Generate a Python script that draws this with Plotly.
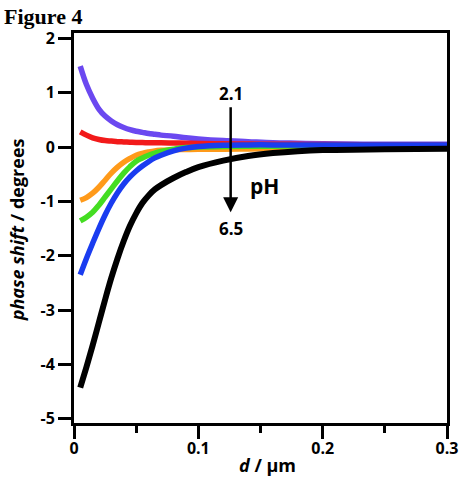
import plotly.graph_objects as go

x_vals = [0.005, 0.01, 0.015, 0.02, 0.025, 0.03, 0.035, 0.04, 0.045, 0.05, 0.055, 0.06, 0.065, 0.07,
          0.08, 0.09, 0.1, 0.12, 0.14, 0.16, 0.18, 0.2, 0.25, 0.3]

purple = [1.49, 1.15, 0.90, 0.70, 0.57, 0.48, 0.41, 0.36, 0.32, 0.29, 0.27, 0.25, 0.235, 0.22,
          0.20, 0.17, 0.15, 0.12, 0.10, 0.08, 0.07, 0.06, 0.05, 0.05]
red = [0.28, 0.22, 0.17, 0.14, 0.12, 0.11, 0.10, 0.095, 0.09, 0.085, 0.082, 0.08, 0.079, 0.078,
       0.075, 0.07, 0.065, 0.06, 0.055, 0.05, 0.05, 0.045, 0.04, 0.04]
orange = [-0.98, -0.93, -0.85, -0.74, -0.61, -0.48, -0.37, -0.28, -0.21, -0.15, -0.115, -0.09, -0.07, -0.06,
          -0.05, -0.045, -0.04, -0.04, -0.035, -0.03, -0.03, -0.025, -0.02, -0.02]
green = [-1.36, -1.29, -1.20, -1.07, -0.92, -0.77, -0.62, -0.48, -0.36, -0.26, -0.2, -0.15, -0.11, -0.08,
         -0.04, -0.01, 0.0, 0.01, 0.015, 0.015, 0.02, 0.02, 0.02, 0.02]
blue = [-2.35, -2.05, -1.77, -1.50, -1.25, -1.03, -0.84, -0.68, -0.55, -0.44, -0.35, -0.27, -0.2, -0.15,
        -0.07, -0.02, 0.01, 0.035, 0.04, 0.04, 0.04, 0.04, 0.04, 0.04]
black = [-4.43, -4.05, -3.65, -3.23, -2.81, -2.41, -2.05, -1.73, -1.45, -1.22, -1.03, -0.89, -0.78, -0.70,
         -0.57, -0.46, -0.37, -0.25, -0.165, -0.11, -0.075, -0.055, -0.04, -0.03]

series = [
    ("pH 2.1", purple, "#6B48F0"),
    ("red", red, "#F21A1A"),
    ("orange", orange, "#FF9A1A"),
    ("green", green, "#44DD22"),
    ("blue", blue, "#1A3CF0"),
    ("pH 6.5", black, "#000000"),
]

fig = go.Figure()
for name, ys, col in series:
    fig.add_trace(go.Scatter(x=x_vals, y=ys, mode="lines", name=name,
                             line=dict(color=col, width=6 if col == "#000000" else 5.5,
                                       shape="spline", smoothing=1.0)))

tickfont = dict(family="Open Sans", size=16, color="black", weight="bold")
y_ticks = [-5, -4, -3, -2, -1, 0, 1, 2]
y_ticktext = ["-5", "-4", "-3", "-2", "-1", "0", "1", "2"]
x_ticks = [0, 0.1, 0.2, 0.3]
x_ticktext = ["0", "0.1", "0.2", "0.3"]

fig.update_layout(
    width=470, height=478,
    margin=dict(l=74, r=14, t=33, b=55),
    plot_bgcolor="white", paper_bgcolor="white",
    showlegend=False,
    xaxis=dict(range=[0, 0.3], tickvals=x_ticks, ticktext=x_ticktext,
               ticks="outside", ticklen=13, tickwidth=3, tickcolor="black",
               showline=True, linewidth=3, linecolor="black", mirror=True,
               showgrid=False, zeroline=False, tickfont=tickfont, ticklabelstandoff=-4,
               minor=dict(tickvals=[0.05, 0.15, 0.25], ticks="outside", ticklen=7, tickwidth=3, tickcolor="black")),
    yaxis=dict(range=[-5.08, 2.1], tickvals=y_ticks, ticktext=y_ticktext,
               ticks="outside", ticklen=13, tickwidth=3, tickcolor="black",
               showline=True, linewidth=3, linecolor="black", mirror=True,
               showgrid=False, zeroline=False, tickfont=tickfont),
)

fig.add_annotation(x=0.126, y=-1.2, ax=0.126, ay=0.76, xref="x", yref="y", axref="x", ayref="y",
                   showarrow=True, arrowhead=2, arrowsize=1.2, arrowwidth=2.5, arrowcolor="black", text="")
fig.add_annotation(x=0.126, y=0.99, xref="x", yref="y", text="2.1", showarrow=False,
                   font=dict(family="Open Sans", size=17, color="black", weight="bold"))
fig.add_annotation(x=0.126, y=-1.49, xref="x", yref="y", text="6.5", showarrow=False,
                   font=dict(family="Open Sans", size=17, color="black", weight="bold"))
fig.add_annotation(x=0.153, y=-0.72, xref="x", yref="y", text="pH", showarrow=False,
                   font=dict(family="Open Sans", size=21, color="black", weight="bold"))

fig.add_annotation(x=-0.194, y=1.08, xref="paper", yref="paper", xanchor="left", yanchor="top",
                   text="Figure 4", showarrow=False,
                   font=dict(family="Liberation Serif", size=22, color="black", weight="bold"))
fig.add_annotation(x=-0.152, y=0.495, xref="paper", yref="paper", xanchor="center", yanchor="middle",
                   textangle=-90, text="<i>phase shift</i> / degrees", showarrow=False,
                   font=dict(family="Open Sans", size=18, color="black", weight="bold"))
fig.add_annotation(x=0.518, y=-0.108, xref="paper", yref="paper", xanchor="center", yanchor="middle",
                   text="<i>d</i> / µm", showarrow=False,
                   font=dict(family="Open Sans", size=18, color="black", weight="bold"))

fig.write_html("out.html")
